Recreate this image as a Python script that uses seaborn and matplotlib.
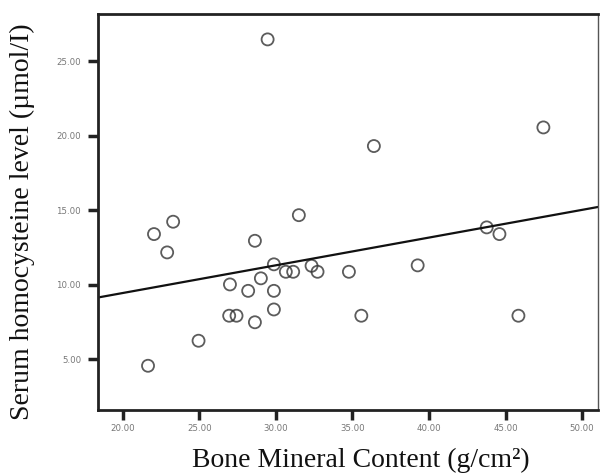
import numpy as np
import pandas as pd
import matplotlib
matplotlib.use("Agg")
import matplotlib.pyplot as plt
import seaborn as sns

# DATA
bone_mineral = [29.46, 36.40, 47.47, 31.50, 28.63, 29.87, 30.65, 31.13, 32.33, 32.72,
                34.77, 39.26, 43.77, 44.60, 27.00, 29.02, 28.19, 29.87, 26.95, 27.43,
                29.87, 28.63, 35.58, 45.84, 24.95, 21.65, 22.04, 23.29, 22.90]
homocysteine = [26.46, 19.30, 20.55, 14.66, 12.94, 11.36, 10.86, 10.86, 11.26, 10.86,
                10.86, 11.29, 13.84, 13.39, 10.01, 10.42, 9.58, 9.58, 7.91, 7.91,
                8.33, 7.47, 7.91, 7.91, 6.23, 4.55, 13.39, 14.22, 12.16]
x_ticks = [20, 25, 30, 35, 40, 45, 50]
y_ticks = [5, 10, 15, 20, 25]

df = pd.DataFrame({"BMC": bone_mineral, "Hcy": homocysteine})

# STYLE SETTINGS
sns.set_style("ticks")
plt.rcParams['font.family'] = ['Liberation Serif', 'DejaVu Serif']

fig = plt.figure(figsize=(6, 4.74), dpi=100)
ax = fig.add_axes([0.163, 0.135, 0.834, 0.835])
ax.set_xlim(18.37, 51.05)
ax.set_ylim(1.58, 28.15)

sns.regplot(
    data=df, x="BMC", y="Hcy", ax=ax, ci=None, truncate=False,
    scatter_kws={'s': 75, 'facecolors': 'none', 'edgecolors': '#333333', 'linewidths': 1.3},
    line_kws={'color': '#111111', 'linewidth': 1.6}
)
ax.set_xlim(18.37, 51.05)
ax.set_ylim(1.58, 28.15)

ax.set_xticks(x_ticks, [f"{v:.2f}" for v in x_ticks])
ax.set_yticks(y_ticks, [f"{v:.2f}" for v in y_ticks])
for lab in ax.get_xticklabels() + ax.get_yticklabels():
    lab.set_family('DejaVu Sans')

# one call per axis, everything at once
ax.tick_params(axis='x', which='major', direction='out', length=7, width=2.5,
               color='#222222', labelsize=6.2, labelcolor='#777777', pad=3,
               bottom=True, top=False)
ax.tick_params(axis='y', which='major', direction='out', length=7, width=2.5,
               color='#222222', labelsize=6.2, labelcolor='#777777', pad=5,
               left=True, right=False)

for side in ['left', 'bottom', 'top']:
    ax.spines[side].set_linewidth(2)
    ax.spines[side].set_color('#222222')
ax.spines['right'].set_linewidth(1)
ax.spines['right'].set_color('#555555')

ax.set_xlabel("Bone Mineral Content (g/cm²)", fontsize=20, color='#111111', va='center')
ax.set_ylabel("Serum homocysteine level (µmol/I)", fontsize=20, color='#111111', va='center')
ax.xaxis.set_label_coords(0.525, -0.127)
ax.yaxis.set_label_coords(-0.15, 0.475)

fig.savefig("out.png", dpi=100)
